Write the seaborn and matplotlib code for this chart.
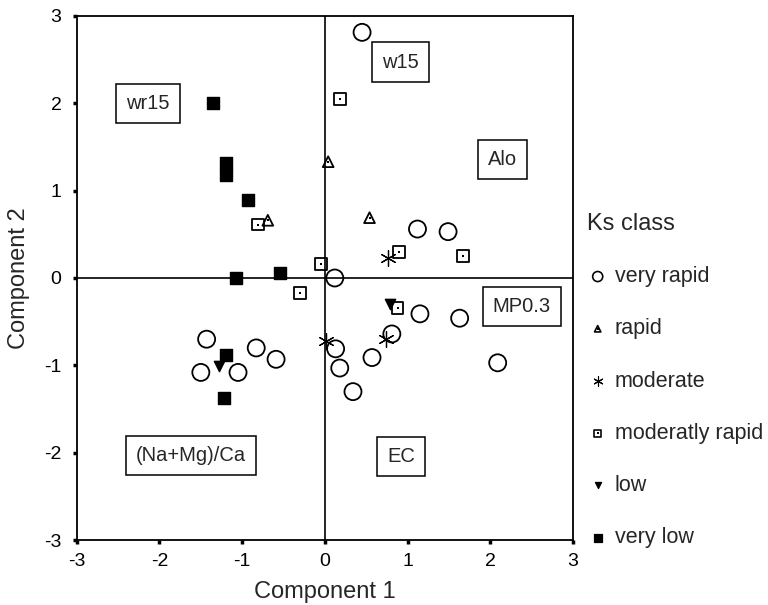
import numpy as np
import pandas as pd
import matplotlib
matplotlib.use("Agg")
import matplotlib.pyplot as plt
from matplotlib.legend_handler import HandlerTuple
import seaborn as sns

sns.set_style("white")
plt.rcParams['font.family'] = ['Liberation Sans', 'DejaVu Sans']
plt.rcParams['axes.unicode_minus'] = False

# Scores per Ks class
very_rapid_x = [0.45, 1.12, 1.49, 0.12, 1.15, 1.63, 0.81, 0.13, 0.18, 0.34, 0.57, 2.09,
                -1.43, -1.50, -1.05, -0.83, -0.59]
very_rapid_y = [2.81, 0.56, 0.53, 0.00, -0.41, -0.46, -0.64, -0.81, -1.03, -1.30, -0.91, -0.97,
                -0.70, -1.08, -1.08, -0.80, -0.93]
rapid_x = [0.04, 0.54, -0.69]
rapid_y = [1.33, 0.69, 0.66]
moderate_x = [0.76, 0.01, 0.74]
moderate_y = [0.23, -0.72, -0.70]
mod_rapid_x = [0.18, 0.90, 1.67, -0.05, -0.81, -0.30, 0.88]
mod_rapid_y = [2.05, 0.30, 0.25, 0.16, 0.61, -0.17, -0.34]
low_x = [0.79, -1.28]
low_y = [-0.30, -1.01]
very_low_x = [-1.35, -1.20, -1.20, -0.93, -0.54, -1.08, -1.19, -1.22]
very_low_y = [2.00, 1.31, 1.18, 0.89, 0.06, 0.00, -0.88, -1.37]

# Variable labels
var_names = ['wr15', 'w15', 'Alo', 'MP0.3', 'EC', '(Na+Mg)/Ca']
var_x = [-2.14, 0.91, 2.15, 2.38, 0.92, -1.62]
var_y = [2.00, 2.47, 1.36, -0.33, -2.04, -2.03]

fig = plt.figure(figsize=(7.68, 6.05), dpi=100)
ax = fig.add_axes([0.100, 0.107, 0.646, 0.867])

ax.axhline(0, color='k', lw=1.2, zorder=1)
ax.axvline(0, color='k', lw=1.2, zorder=1)

styles = [
    ('very rapid', very_rapid_x, very_rapid_y, 'o', 'none', 150, 1.3, False),
    ('rapid', rapid_x, rapid_y, '^', 'none', 60, 1.3, True),
    ('moderate', moderate_x, moderate_y, (6, 2, 0), 'k', 130, 0.9, False),
    ('moderatly rapid', mod_rapid_x, mod_rapid_y, 's', 'none', 70, 1.3, True),
    ('low', low_x, low_y, 'v', 'k', 55, 1.0, False),
    ('very low', very_low_x, very_low_y, 's', 'k', 80, 1.0, False),
]

handles = []
labels = []
for name, xs, ys, mk, fc, s, lw, dot in styles:
    df = pd.DataFrame({'x': xs, 'y': ys})
    sns.scatterplot(data=df, x='x', y='y', ax=ax, marker=mk, s=s,
                    facecolor=fc, edgecolor='k', linewidth=lw, zorder=3)
    h = ax.scatter([], [], marker=mk, s=s * 0.35, facecolor=fc, edgecolor='k', linewidth=lw * 0.9)
    if dot:
        sns.scatterplot(data=df, x='x', y='y', ax=ax, marker='s', s=2,
                        color='k', linewidth=0, zorder=4)
        d = ax.scatter([], [], marker='s', s=1.5, color='k', linewidth=0)
        handles.append((h, d))
    else:
        handles.append(h)
    labels.append(name)

for name, tx, ty in zip(var_names, var_x, var_y):
    ax.text(tx, ty, name, ha='center', va='center', fontsize=14.5, zorder=5,
            bbox=dict(boxstyle='square,pad=0.5', fc='white', ec='k', lw=1.1))

ax.set_xlim(-3, 3)
ax.set_ylim(-3, 3)
ax.set_xticks(np.arange(-3, 4, 1))
ax.set_yticks(np.arange(-3, 4, 1))
ax.tick_params(axis='both', labelsize=14, length=3, width=2.5, direction='out',
               bottom=True, left=True, colors='k')
ax.tick_params(axis='y', pad=8)
ax.tick_params(axis='x', pad=6)
ax.set_xlabel('Component 1', fontsize=17, labelpad=8)
ax.set_ylabel('Component 2', fontsize=17, labelpad=10)
for sp in ax.spines.values():
    sp.set_color('k')
    sp.set_linewidth(1.3)

leg = fig.legend(handles, labels, loc='upper left', bbox_to_anchor=(0.739, 0.68),
                 frameon=False, fontsize=15.5, title='Ks class', title_fontsize=17,
                 labelspacing=1.45, handletextpad=0.3, handlelength=1.0,
                 alignment='left', handler_map={tuple: HandlerTuple(ndivide=1)})

fig.savefig('out.png', dpi=100)
